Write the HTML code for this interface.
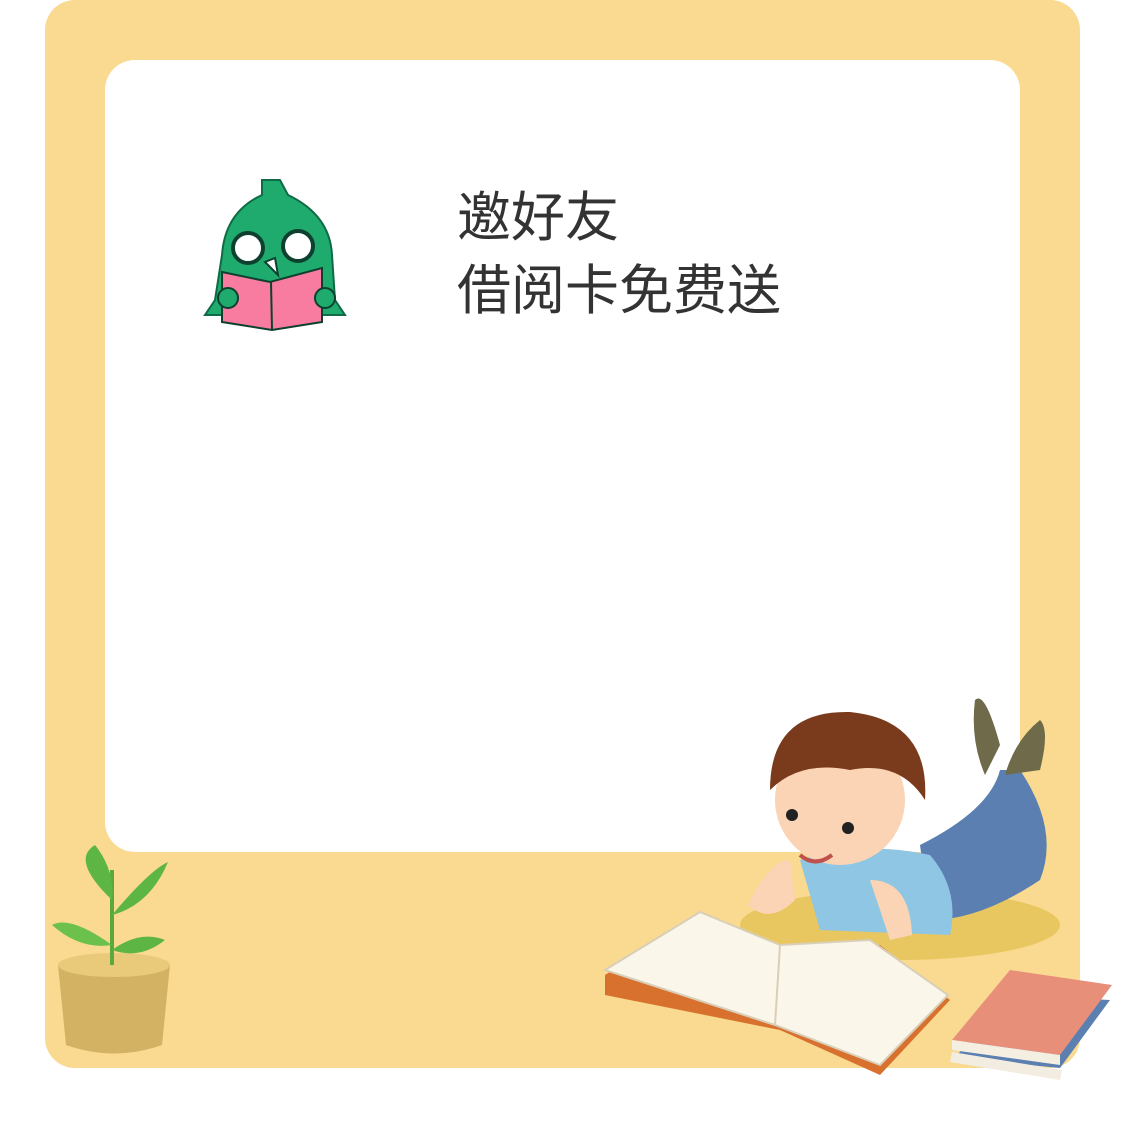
<!DOCTYPE html>
<html><head><meta charset="utf-8"><style>
html,body{margin:0;padding:0;background:#fff;}
#wrap{position:relative;width:1125px;height:1125px;overflow:hidden;}
.t{position:absolute;left:457px;font-family:"Liberation Sans","Noto Sans CJK SC",sans-serif;font-size:54px;color:#333;line-height:1;margin:0;white-space:nowrap;}
</style></head><body>
<div id="wrap">
<svg width="1125" height="1125" style="position:absolute;left:0;top:0">
<rect x="45" y="0" width="1035" height="1068" rx="30" fill="#f9da90"/>
<rect x="105" y="60" width="915" height="792" rx="30" fill="#fff"/>
<g>
<path d="M262 180 L280 180 L288 195 Q330 215 332 255 L335 300 L345 315 L205 315 L215 300 L222 255 Q225 212 262 195 Z" fill="#1faa6e" stroke="#0e6b45" stroke-width="2"/>
<circle cx="248" cy="248" r="15" fill="#fff" stroke="#0e4030" stroke-width="4"/>
<circle cx="298" cy="246" r="15" fill="#fff" stroke="#0e4030" stroke-width="4"/>
<path d="M265 262 L275 258 L278 275 Z" fill="#fff" stroke="#0e4030" stroke-width="2"/>
<path d="M222 272 L270 282 L322 268 L322 322 L272 330 L222 322 Z" fill="#f87ba0" stroke="#0e4030" stroke-width="2"/>
<line x1="271" y1="282" x2="272" y2="330" stroke="#0e4030" stroke-width="2"/>
<circle cx="228" cy="298" r="10" fill="#1faa6e" stroke="#0e4030" stroke-width="2"/>
<circle cx="325" cy="298" r="10" fill="#1faa6e" stroke="#0e4030" stroke-width="2"/>
</g>
<g>
<path d="M58 965 L170 965 L162 1045 Q114 1062 66 1045 Z" fill="#d4b263"/>
<ellipse cx="114" cy="965" rx="56" ry="12" fill="#e9c97a"/>
<path d="M112 965 L112 870" stroke="#5aa83e" stroke-width="4"/>
<path d="M112 900 Q70 860 95 845 Q115 870 112 900 Z" fill="#5db544"/>
<path d="M112 915 Q150 870 168 862 Q150 905 112 915 Z" fill="#5db544"/>
<path d="M112 945 Q70 915 52 925 Q80 950 112 945 Z" fill="#6cc04c"/>
<path d="M112 950 Q140 930 165 940 Q140 960 112 950 Z" fill="#5db544"/>
</g>
<g>
<ellipse cx="900" cy="925" rx="160" ry="35" fill="#e8c760"/>
<path d="M920 845 Q990 810 1000 770 L1020 770 Q1060 830 1040 880 Q980 920 930 920 Z" fill="#5a7fb0"/>
<path d="M975 700 Q985 690 1000 745 L985 775 Q970 740 975 700 Z" fill="#6e6a4a"/>
<path d="M1040 720 Q1050 730 1040 770 L1005 775 Q1015 740 1040 720 Z" fill="#6e6a4a"/>
<path d="M800 860 Q860 840 930 855 Q960 890 950 935 L820 930 Z" fill="#8ec6e4"/>
<circle cx="840" cy="800" r="65" fill="#fad4b4"/>
<path d="M770 790 Q770 710 850 712 Q930 720 925 800 Q900 760 850 770 Q800 760 770 790 Z" fill="#7a3b1c"/>
<circle cx="792" cy="815" r="6" fill="#222"/><circle cx="848" cy="828" r="6" fill="#222"/>
<path d="M800 855 Q815 868 832 855" stroke="#c0504a" stroke-width="4" fill="none"/>
<path d="M748 905 Q770 860 790 860 L795 900 Q770 925 748 905 Z" fill="#fad4b4"/>
<path d="M870 880 Q910 880 912 935 L890 940 Z" fill="#fad4b4"/>
<path d="M605 975 L700 915 L780 950 L880 945 L950 1000 L880 1075 L780 1030 L605 995 Z" fill="#d8702e"/>
<path d="M605 970 L700 912 L780 945 L870 940 L948 995 L880 1065 L775 1025 Z" fill="#fbf6ea" stroke="#d9cfb9" stroke-width="2"/>
<line x1="780" y1="945" x2="775" y2="1025" stroke="#d9cfb9" stroke-width="2"/>
</g>
<g>
<path d="M955 1058 L1060 1068 L1110 1000 L1005 995 Z" fill="#5a7fb0"/>
<path d="M950 1062 L1060 1080 L1062 1070 L952 1052 Z" fill="#f3ece0"/>
<path d="M952 1040 L1060 1055 L1112 985 L1010 970 Z" fill="#e88f7a"/>
<path d="M952 1040 L1060 1055 L1060 1065 L952 1050 Z" fill="#f5efe2"/>
</g>
</svg>
<p class="t" style="top:191px">邀好友</p>
<p class="t" style="top:264px">借阅卡免费送</p>
</div>
</body></html>
